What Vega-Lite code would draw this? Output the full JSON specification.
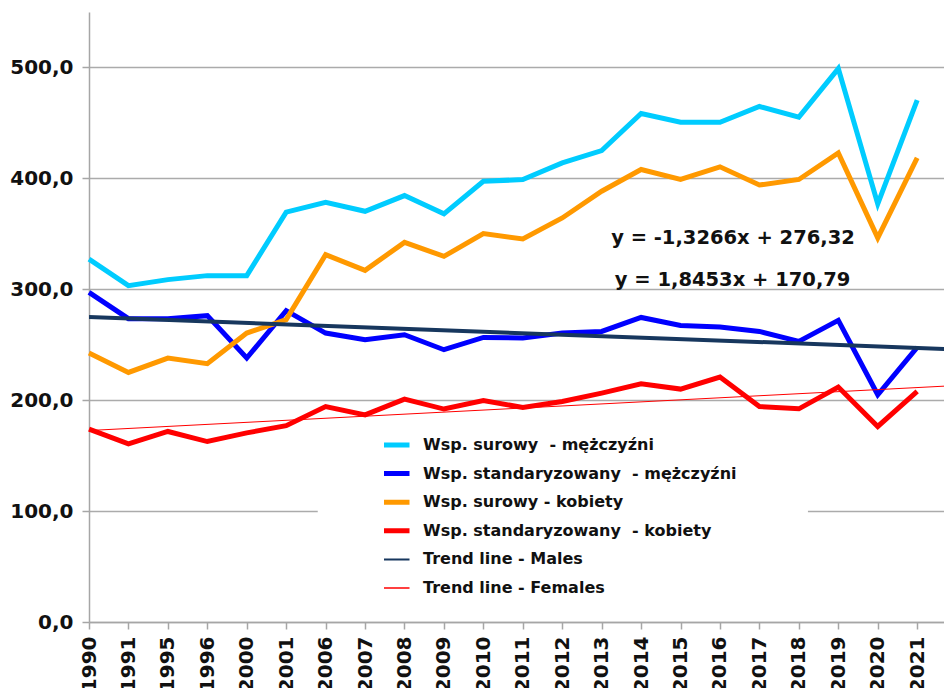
{
  "$schema": "https://vega.github.io/schema/vega-lite/v6.json",
  "width": 855,
  "height": 610,
  "autosize": {"type": "none"},
  "padding": {"left": 89, "top": 12, "right": 0, "bottom": 66},
  "background": "white",
  "config": {
    "view": {"stroke": null},
    "font": "DejaVu Sans",
    "axis": {"labelFont": "DejaVu Sans", "labelFontWeight": "bold", "labelColor": "#111111"},
    "legend": {"labelFont": "DejaVu Sans"}
  },
  "datasets": {
    "series": [
      {"year": "1990", "series": "Wsp. surowy  - mężczyźni", "value": 327.2},
      {"year": "1991", "series": "Wsp. surowy  - mężczyźni", "value": 303.3},
      {"year": "1995", "series": "Wsp. surowy  - mężczyźni", "value": 308.7},
      {"year": "1996", "series": "Wsp. surowy  - mężczyźni", "value": 312.3},
      {"year": "2000", "series": "Wsp. surowy  - mężczyźni", "value": 312.3},
      {"year": "2001", "series": "Wsp. surowy  - mężczyźni", "value": 369.5},
      {"year": "2006", "series": "Wsp. surowy  - mężczyźni", "value": 378.4},
      {"year": "2007", "series": "Wsp. surowy  - mężczyźni", "value": 370.3},
      {"year": "2008", "series": "Wsp. surowy  - mężczyźni", "value": 384.5},
      {"year": "2009", "series": "Wsp. surowy  - mężczyźni", "value": 368.0},
      {"year": "2010", "series": "Wsp. surowy  - mężczyźni", "value": 397.4},
      {"year": "2011", "series": "Wsp. surowy  - mężczyźni", "value": 398.9},
      {"year": "2012", "series": "Wsp. surowy  - mężczyźni", "value": 414.0},
      {"year": "2013", "series": "Wsp. surowy  - mężczyźni", "value": 425.0},
      {"year": "2014", "series": "Wsp. surowy  - mężczyźni", "value": 458.5},
      {"year": "2015", "series": "Wsp. surowy  - mężczyźni", "value": 450.6},
      {"year": "2016", "series": "Wsp. surowy  - mężczyźni", "value": 450.6},
      {"year": "2017", "series": "Wsp. surowy  - mężczyźni", "value": 464.8},
      {"year": "2018", "series": "Wsp. surowy  - mężczyźni", "value": 455.2},
      {"year": "2019", "series": "Wsp. surowy  - mężczyźni", "value": 499.0},
      {"year": "2020", "series": "Wsp. surowy  - mężczyźni", "value": 377.0},
      {"year": "2021", "series": "Wsp. surowy  - mężczyźni", "value": 470.5},
      {"year": "1990", "series": "Wsp. standaryzowany  - mężczyźni", "value": 297.2},
      {"year": "1991", "series": "Wsp. standaryzowany  - mężczyźni", "value": 273.5},
      {"year": "1995", "series": "Wsp. standaryzowany  - mężczyźni", "value": 273.5},
      {"year": "1996", "series": "Wsp. standaryzowany  - mężczyźni", "value": 276.2},
      {"year": "2000", "series": "Wsp. standaryzowany  - mężczyźni", "value": 238.0},
      {"year": "2001", "series": "Wsp. standaryzowany  - mężczyźni", "value": 280.7},
      {"year": "2006", "series": "Wsp. standaryzowany  - mężczyźni", "value": 260.5},
      {"year": "2007", "series": "Wsp. standaryzowany  - mężczyźni", "value": 254.5},
      {"year": "2008", "series": "Wsp. standaryzowany  - mężczyźni", "value": 259.0},
      {"year": "2009", "series": "Wsp. standaryzowany  - mężczyźni", "value": 245.5},
      {"year": "2010", "series": "Wsp. standaryzowany  - mężczyźni", "value": 256.6},
      {"year": "2011", "series": "Wsp. standaryzowany  - mężczyźni", "value": 256.0},
      {"year": "2012", "series": "Wsp. standaryzowany  - mężczyźni", "value": 260.5},
      {"year": "2013", "series": "Wsp. standaryzowany  - mężczyźni", "value": 262.0},
      {"year": "2014", "series": "Wsp. standaryzowany  - mężczyźni", "value": 274.6},
      {"year": "2015", "series": "Wsp. standaryzowany  - mężczyźni", "value": 267.4},
      {"year": "2016", "series": "Wsp. standaryzowany  - mężczyźni", "value": 266.0},
      {"year": "2017", "series": "Wsp. standaryzowany  - mężczyźni", "value": 262.0},
      {"year": "2018", "series": "Wsp. standaryzowany  - mężczyźni", "value": 253.0},
      {"year": "2019", "series": "Wsp. standaryzowany  - mężczyźni", "value": 272.0},
      {"year": "2020", "series": "Wsp. standaryzowany  - mężczyźni", "value": 204.9},
      {"year": "2021", "series": "Wsp. standaryzowany  - mężczyźni", "value": 247.6},
      {"year": "1990", "series": "Wsp. surowy - kobiety", "value": 242.5},
      {"year": "1991", "series": "Wsp. surowy - kobiety", "value": 225.0},
      {"year": "1995", "series": "Wsp. surowy - kobiety", "value": 238.0},
      {"year": "1996", "series": "Wsp. surowy - kobiety", "value": 232.9},
      {"year": "2000", "series": "Wsp. surowy - kobiety", "value": 260.5},
      {"year": "2001", "series": "Wsp. surowy - kobiety", "value": 272.6},
      {"year": "2006", "series": "Wsp. surowy - kobiety", "value": 331.2},
      {"year": "2007", "series": "Wsp. surowy - kobiety", "value": 317.1},
      {"year": "2008", "series": "Wsp. surowy - kobiety", "value": 342.3},
      {"year": "2009", "series": "Wsp. surowy - kobiety", "value": 329.7},
      {"year": "2010", "series": "Wsp. surowy - kobiety", "value": 350.2},
      {"year": "2011", "series": "Wsp. surowy - kobiety", "value": 345.4},
      {"year": "2012", "series": "Wsp. surowy - kobiety", "value": 364.3},
      {"year": "2013", "series": "Wsp. surowy - kobiety", "value": 388.4},
      {"year": "2014", "series": "Wsp. surowy - kobiety", "value": 408.0},
      {"year": "2015", "series": "Wsp. surowy - kobiety", "value": 399.0},
      {"year": "2016", "series": "Wsp. surowy - kobiety", "value": 410.4},
      {"year": "2017", "series": "Wsp. surowy - kobiety", "value": 394.0},
      {"year": "2018", "series": "Wsp. surowy - kobiety", "value": 399.0},
      {"year": "2019", "series": "Wsp. surowy - kobiety", "value": 423.0},
      {"year": "2020", "series": "Wsp. surowy - kobiety", "value": 346.3},
      {"year": "2021", "series": "Wsp. surowy - kobiety", "value": 418.5},
      {"year": "1990", "series": "Wsp. standaryzowany  - kobiety", "value": 173.9},
      {"year": "1991", "series": "Wsp. standaryzowany  - kobiety", "value": 160.6},
      {"year": "1995", "series": "Wsp. standaryzowany  - kobiety", "value": 171.8},
      {"year": "1996", "series": "Wsp. standaryzowany  - kobiety", "value": 162.7},
      {"year": "2000", "series": "Wsp. standaryzowany  - kobiety", "value": 170.5},
      {"year": "2001", "series": "Wsp. standaryzowany  - kobiety", "value": 177.0},
      {"year": "2006", "series": "Wsp. standaryzowany  - kobiety", "value": 194.3},
      {"year": "2007", "series": "Wsp. standaryzowany  - kobiety", "value": 186.8},
      {"year": "2008", "series": "Wsp. standaryzowany  - kobiety", "value": 201.0},
      {"year": "2009", "series": "Wsp. standaryzowany  - kobiety", "value": 192.0},
      {"year": "2010", "series": "Wsp. standaryzowany  - kobiety", "value": 199.7},
      {"year": "2011", "series": "Wsp. standaryzowany  - kobiety", "value": 193.4},
      {"year": "2012", "series": "Wsp. standaryzowany  - kobiety", "value": 198.8},
      {"year": "2013", "series": "Wsp. standaryzowany  - kobiety", "value": 206.4},
      {"year": "2014", "series": "Wsp. standaryzowany  - kobiety", "value": 214.8},
      {"year": "2015", "series": "Wsp. standaryzowany  - kobiety", "value": 210.0},
      {"year": "2016", "series": "Wsp. standaryzowany  - kobiety", "value": 220.8},
      {"year": "2017", "series": "Wsp. standaryzowany  - kobiety", "value": 194.3},
      {"year": "2018", "series": "Wsp. standaryzowany  - kobiety", "value": 192.2},
      {"year": "2019", "series": "Wsp. standaryzowany  - kobiety", "value": 211.8},
      {"year": "2020", "series": "Wsp. standaryzowany  - kobiety", "value": 176.3},
      {"year": "2021", "series": "Wsp. standaryzowany  - kobiety", "value": 207.9}
    ],
    "trend": [
      {"n": 1, "series": "Trend line - Males", "value": 274.99},
      {"n": 23, "series": "Trend line - Males", "value": 245.81},
      {"n": 1, "series": "Trend line - Females", "value": 172.64},
      {"n": 23, "series": "Trend line - Females", "value": 213.23}
    ],
    "box": [
      {"from": 6.8, "to": 19.23, "low": 15, "high": 178}
    ],
    "equations": [
      {"label": "y = -1,3266x + 276,32", "n": 17.33, "value": 346.6},
      {"label": "y = 1,8453x + 170,79", "n": 17.32, "value": 308.7}
    ]
  },
  "layer": [
    {
      "data": {"name": "box"},
      "mark": {"type": "rect", "fill": "white"},
      "encoding": {
        "x": {"field": "from", "type": "quantitative", "scale": {"domain": [1, 22.68], "nice": false, "zero": false}, "axis": null},
        "x2": {"field": "to"},
        "y": {"field": "low", "type": "quantitative"},
        "y2": {"field": "high"}
      }
    },
    {
      "data": {"name": "series"},
      "mark": {"type": "line", "strokeJoin": "miter", "strokeCap": "butt"},
      "encoding": {
        "x": {
          "field": "year", "type": "ordinal",
          "scale": {"type": "point", "padding": 0.34, "align": 0},
          "axis": {
            "title": null, "labelAngle": -90, "labelFontSize": 20, "labelPadding": 7,
            "tickSize": 7, "tickColor": "#A6A6A6", "tickWidth": 1.5,
            "domainColor": "#A6A6A6", "domainWidth": 1.5, "grid": false
          }
        },
        "y": {
          "field": "value", "type": "quantitative",
          "scale": {"domain": [0, 550], "nice": false},
          "axis": {
            "title": null, "values": [0, 100, 200, 300, 400, 500],
            "labelExpr": "replace(format(datum.value, '.1f'), '.', ',')",
            "labelFontSize": 20, "labelPadding": 9, "tickSize": 7,
            "tickColor": "#A6A6A6", "tickWidth": 1.5, "domainColor": "#A6A6A6", "domainWidth": 1.5,
            "grid": true, "gridColor": "#ABABAB", "gridWidth": 1.5
          }
        },
        "color": {
          "field": "series", "type": "nominal",
          "scale": {
            "domain": ["Wsp. surowy  - mężczyźni", "Wsp. standaryzowany  - mężczyźni", "Wsp. surowy - kobiety", "Wsp. standaryzowany  - kobiety", "Trend line - Males", "Trend line - Females"],
            "range": ["#00CCFF", "#0000FF", "#FF9900", "#FF0000", "#17375E", "#FF0000"]
          },
          "legend": {
            "title": null, "orient": "none", "legendX": 295, "legendY": 425,
            "symbolType": "stroke", "symbolSize": 1225, "clipHeight": 16, "rowPadding": 12.6,
            "labelFontSize": 16, "labelFontWeight": "bold", "labelColor": "#111111",
            "labelExpr": "replace(datum.label, '  ', '\u00a0 ')",
            "labelOffset": 23, "labelLimit": 500, "padding": 0,
            "encode": {
              "symbols": {"update": {"strokeWidth": {"signal": "datum.value === 'Trend line - Males' ? 2 : (datum.value === 'Trend line - Females' ? 1.5 : 5)"}}}
            }
          }
        },
        "strokeWidth": {
          "field": "series", "type": "nominal",
          "scale": {
            "type": "ordinal",
            "domain": ["Wsp. surowy  - mężczyźni", "Wsp. standaryzowany  - mężczyźni", "Wsp. surowy - kobiety", "Wsp. standaryzowany  - kobiety", "Trend line - Males", "Trend line - Females"],
            "range": [5, 5, 5, 5, 2, 1.5]
          },
          "legend": null
        }
      }
    },
    {
      "data": {"name": "trend"},
      "mark": {"type": "line", "clip": true},
      "encoding": {
        "x": {"field": "n", "type": "quantitative", "scale": {"domain": [1, 22.68], "nice": false, "zero": false}, "axis": null},
        "y": {"field": "value", "type": "quantitative"},
        "color": {"field": "series", "type": "nominal"},
        "strokeWidth": {"field": "series", "type": "nominal", "legend": null}
      }
    },
    {
      "data": {"name": "equations"},
      "mark": {"type": "text", "font": "DejaVu Sans", "fontWeight": "bold", "fontSize": 19.5, "color": "#111111", "align": "center", "baseline": "middle"},
      "encoding": {
        "x": {"field": "n", "type": "quantitative", "scale": {"domain": [1, 22.68], "nice": false, "zero": false}, "axis": null},
        "y": {"field": "value", "type": "quantitative"},
        "text": {"field": "label"}
      }
    }
  ],
  "resolve": {"scale": {"x": "independent"}}
}
